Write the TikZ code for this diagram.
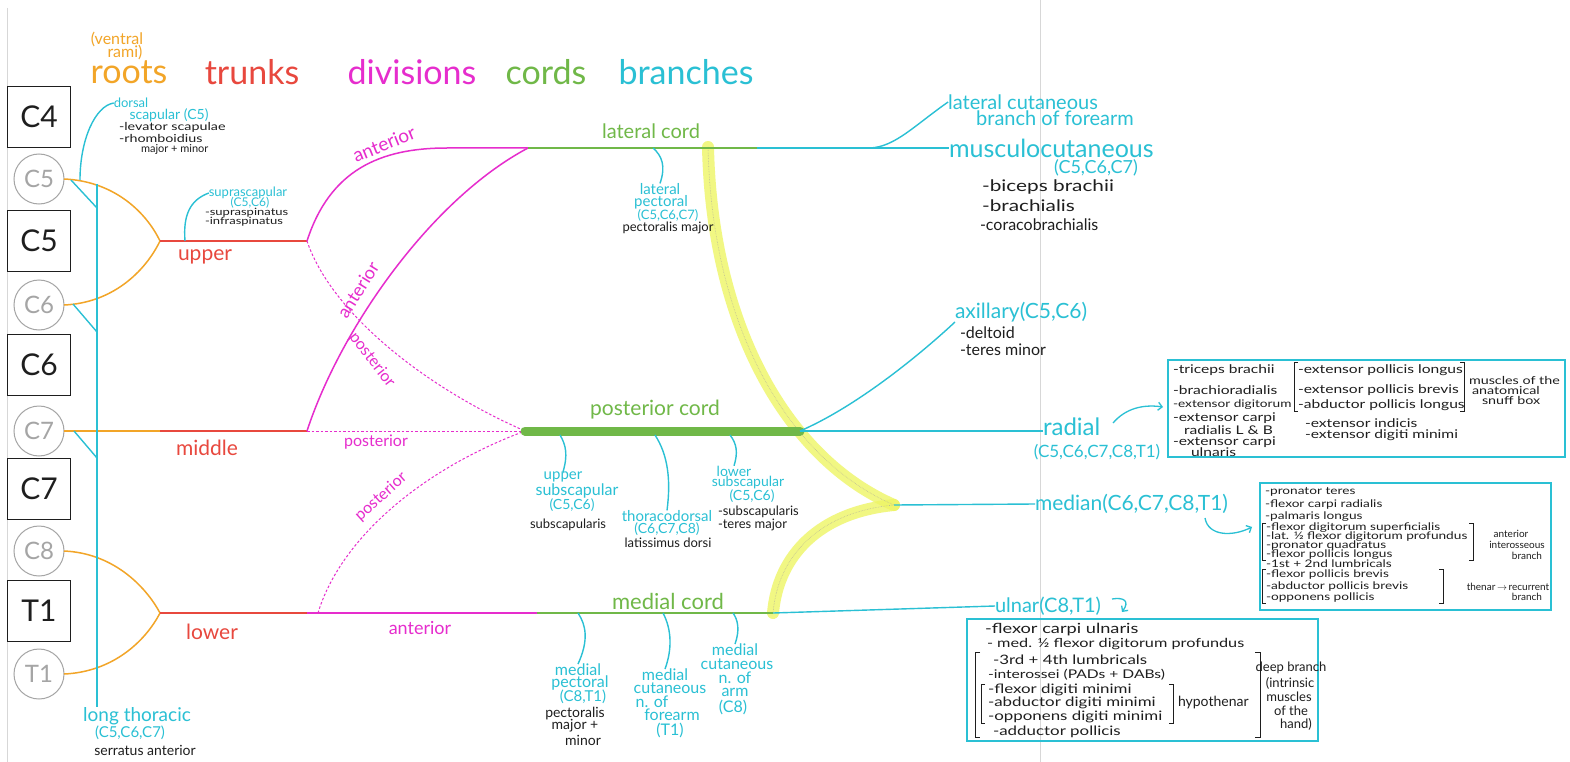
\documentclass[tikz,border=0pt]{standalone}
\usepackage{fontspec}
\setmainfont{Lato}
\newfontfamily\hw{Lato}[FakeStretch=1.3]
\usetikzlibrary{arrows.meta}
\definecolor{rootc}{RGB}{242,165,40}
\definecolor{trunkc}{RGB}{232,72,62}
\definecolor{divc}{RGB}{230,45,205}
\definecolor{cordc}{RGB}{112,184,72}
\definecolor{brc}{RGB}{42,192,212}
\definecolor{greyc}{RGB}{165,165,165}
\definecolor{pagec}{RGB}{215,215,215}
\definecolor{hlc}{RGB}{238,245,100}
\definecolor{inkc}{RGB}{30,30,30}
\newcommand{\fz}[1]{\fontsize{#1}{#1}\selectfont}
\begin{document}
\begin{tikzpicture}[x=1pt,y=-1pt,
  every node/.style={inner sep=0pt, outer sep=0pt},
  rootbox/.style={draw=inkc, line width=1.3pt, minimum width=63pt, minimum height=61pt, font=\fz{30}, text=inkc},
  rootcirc/.style={circle, draw=greyc, line width=1pt, minimum size=50pt, font=\fz{24}, text=greyc},
  rootln/.style={draw=rootc, line width=1.5pt},
  trunkln/.style={draw=trunkc, line width=1.5pt},
  divln/.style={draw=divc, line width=1.5pt},
  divdash/.style={draw=divc, line width=1pt, dash pattern=on 2.5pt off 2pt},
  cordln/.style={draw=cordc, line width=1.5pt},
  brln/.style={draw=brc, line width=1.4pt},
  boxln/.style={draw=brc, line width=1.8pt},
  brk/.style={draw=inkc, line width=0.9pt},
  cyt/.style={text=brc, align=center},
  ink/.style={text=inkc, align=left},
  hdr/.style={font=\fz{34}},
  arr/.style={-{Straight Barb[length=4pt,width=8pt]}, draw=brc, line width=1.3pt},
]
\fill[white] (0,0) rectangle (1570,762);
\useasboundingbox (0,0) rectangle (1570,762);
% notebook page lines
\coordinate (pg0) at (1040,0); \coordinate (pg1) at (1040,762);
\draw[pagec, line width=0.8pt] (pg0) -- (pg1);
\coordinate (pl0) at (7,8); \coordinate (pl1) at (7,762);
\draw[pagec, line width=0.6pt] (pl0) -- (pl1);

% headers
\node[text=rootc, font=\fz{16}, align=center] (ventral) at (117,46) {(ventral\\[-3pt]\hspace*{1em}rami)};
\node[hdr, text=rootc] (hroots) at (129,72) {roots};
\node[hdr, text=trunkc] (htrunks) at (252,72) {trunks};
\node[hdr, text=divc] (hdiv) at (412,72) {divisions};
\node[hdr, text=cordc] (hcords) at (546,72) {cords};
\node[hdr, text=brc] (hbr) at (686,72) {branches};

% roots column
\node[rootbox] (bC4) at (39,117) {C4};
\node[rootcirc] (cC5) at (39,179) {C5};
\node[rootbox] (bC5) at (39,241) {C5};
\node[rootcirc] (cC6) at (39,305) {C6};
\node[rootbox] (bC6) at (39,365) {C6};
\node[rootcirc] (cC7) at (39,431) {C7};
\node[rootbox] (bC7) at (39,489) {C7};
\node[rootcirc] (cC8) at (39,551) {C8};
\node[rootbox] (bT1) at (39,611) {T1};
\node[rootcirc] (cT1) at (39,674) {T1};

% junctions
\coordinate (J1) at (160,241);
\coordinate (J2) at (160,431);
\coordinate (J3) at (160,613);
\coordinate (T1e) at (307,241);
\coordinate (T2e) at (307,431);
\coordinate (T3e) at (307,613);
\coordinate (LC0) at (528,148);
\coordinate (LC1) at (757,148);
\coordinate (PC0) at (525,431);
\coordinate (PC1) at (800,431);
\coordinate (MD0) at (537,613);
\coordinate (MD1) at (773,613);
\coordinate (MED0) at (894,505);
\coordinate (UA1) at (447,148);
\coordinate (HL0) at (708,147);

% roots (orange)
\draw[rootln] (cC5.east) .. controls (112,181) and (145,210) .. (J1);
\draw[rootln] (cC6.east) .. controls (112,303) and (145,272) .. (J1);
\draw[rootln] (cC7.east) -- (J2);
\draw[rootln] (cC8.east) .. controls (112,553) and (145,585) .. (J3);
\draw[rootln] (cT1.east) .. controls (112,672) and (145,642) .. (J3);

% trunks (red)
\draw[trunkln] (J1) -- (T1e);
\draw[trunkln] (J2) -- (T2e);
\draw[trunkln] (J3) -- (T3e);
\node[text=trunkc, font=\fz{21}] (lupper) at (205,257) {upper};
\node[text=trunkc, font=\fz{21}] (lmiddle) at (207,448) {middle};
\node[text=trunkc, font=\fz{21}] (llower) at (212,632) {lower};

% divisions (magenta)
\draw[divln] (T1e) .. controls (330,170) and (380,148) .. (UA1) -- (LC0);
\draw[divln] (T2e) .. controls (340,330) and (430,200) .. (LC0);
\draw[divdash] (T1e) .. controls (330,310) and (420,385) .. (PC0);
\draw[divdash] (T2e) -- (PC0);
\coordinate (LP0) at (318,613);
\draw[divdash] (LP0) .. controls (340,540) and (420,470) .. (PC0);
\draw[divln] (T3e) -- (MD0);
\node[text=divc, font=\fz{19}, rotate=22] (da1) at (384,144) {anterior};
\node[text=divc, font=\fz{18}, rotate=58] (da2) at (358,290) {anterior};
\node[text=divc, font=\fz{16}, rotate=-52] (dp1) at (372,360) {posterior};
\node[text=divc, font=\fz{16}] (dp2) at (376,442) {posterior};
\node[text=divc, font=\fz{16}, rotate=42] (dp3) at (381,497) {posterior};
\node[text=divc, font=\fz{18}] (da3) at (420,628) {anterior};

% highlight (median nerve formation)
\path[draw=hlc, line width=12pt, opacity=0.8, line cap=round] (HL0) .. controls (712,330) and (790,460) .. (MED0);
\path[draw=hlc, line width=12pt, opacity=0.8, line cap=round] (MD1) .. controls (778,555) and (820,512) .. (MED0);
\draw[draw={rgb,255:red,190;green,190;blue,150}, line width=0.6pt, densely dotted] (HL0) .. controls (712,330) and (790,460) .. (MED0);
\draw[draw={rgb,255:red,190;green,190;blue,150}, line width=0.6pt, densely dotted] (MD1) .. controls (778,555) and (820,512) .. (MED0);

% cords (green)
\draw[cordln] (LC0) -- (LC1);
\draw[draw=cordc, line width=9pt, line cap=round] (PC0) -- (PC1);
\draw[cordln] (MD0) -- (MD1);
\node[text=cordc, font=\fz{20}] (nlat) at (651,131) {lateral cord};
\node[text=cordc, font=\fz{21}] (npost) at (655,410) {posterior cord};
\node[text=cordc, font=\fz{22}] (nmed) at (668,601) {medial cord};

% long thoracic & dorsal scapular
\coordinate (LTt) at (97,184);
\node[cyt, font=\fz{19}] (lt1) at (137,716) {long thoracic};
\node[cyt, font=\fz{15}] (lt2) at (130,733) {(C5,C6,C7)};
\node[ink, font=\fz{14}] (lt3) at (145,750) {serratus anterior};
\draw[brln] (LTt) -- (LTt |- lt1.north);
\coordinate (lb5a) at (71,180); \coordinate (lb5b) at (97,208);
\coordinate (lb6a) at (73,304); \coordinate (lb6b) at (97,332);
\coordinate (lb7a) at (74,431); \coordinate (lb7b) at (97,458);
\draw[brln] (lb5a) -- (lb5b);
\draw[brln] (lb6a) -- (lb6b);
\draw[brln] (lb7a) -- (lb7b);
\coordinate (ds0) at (80,180);
\node[cyt, font=\fz{13}] (ds1) at (131,103) {dorsal};
\node[cyt, font=\fz{14}] (ds2) at (169,115) {scapular (C5)};
\node[ink, font=\fz{11}, anchor=west] (ds3) at (119,127) {\hw -levator scapulae};
\node[ink, font=\fz{11}, anchor=west] (ds4) at (119,138) {\hw -rhomboidius};
\node[ink, font=\fz{11}, anchor=west] (ds5) at (141,149) {major + minor};
\draw[brln] (ds0) .. controls (80,140) and (95,106) .. (ds1.west);

% suprascapular
\coordinate (ss0) at (185,241);
\node[cyt, font=\fz{13}] (ss1) at (248,193) {suprascapular};
\node[cyt, font=\fz{12}] (ss2) at (250,203) {(C5,C6)};
\node[ink, font=\fz{10}, anchor=west] (ss3) at (205,213) {\hw -supraspinatus};
\node[ink, font=\fz{10}, anchor=west] (ss4) at (205,222) {\hw -infraspinatus};
\draw[brln] (ss0) .. controls (183,215) and (190,200) .. (ss1.west);

% lateral cord branches
\coordinate (lpb) at (653,148);
\node[cyt, font=\fz{15}] (lp1) at (660,189) {lateral};
\node[cyt, font=\fz{15}] (lp2) at (661,202) {pectoral};
\node[cyt, font=\fz{13}] (lp3) at (668,215) {(C5,C6,C7)};
\node[ink, font=\fz{13}] (lp4) at (668,228) {pectoralis major};
\draw[brln] (lpb) .. controls (662,156) and (666,166) .. (lp1.north);

\node[cyt, font=\fz{25}, anchor=west] (mc) at (949,148) {musculocutaneous};
\draw[brln] (LC1) -- (mc.west);
\coordinate (lcb) at (870,148);
\node[cyt, font=\fz{20}] (lc1) at (1023,102) {lateral cutaneous};
\node[cyt, font=\fz{20}] (lc2) at (1055,118) {branch of forearm};
\draw[brln] (lcb) .. controls (895,147) and (915,125) .. (lc1.west);
\node[cyt, font=\fz{18}] (mc2) at (1096,168) {(C5,C6,C7)};
\node[ink, font=\fz{16}, anchor=west] (mc3) at (982,187) {\hw -biceps brachii};
\node[ink, font=\fz{16}, anchor=west] (mc4) at (982,206) {\hw -brachialis};
\node[ink, font=\fz{16}, anchor=west] (mc5) at (980,225) {-coracobrachialis};

% posterior cord branches
\coordinate (usb) at (560,435);
\node[cyt, font=\fz{15}] (us1) at (563,477) {upper};
\node[cyt, font=\fz{16}] (us2) at (577,491) {subscapular};
\node[cyt, font=\fz{14}] (us3) at (572,505) {(C5,C6)};
\node[ink, font=\fz{13}] (us4) at (568,525) {subscapularis};
\draw[brln] (usb) .. controls (566,445) and (568,455) .. (us1.north);
\coordinate (tdb) at (655,435);
\node[cyt, font=\fz{15}] (td1) at (667,516) {thoracodorsal};
\node[cyt, font=\fz{14}] (td2) at (667,529) {(C6,C7,C8)};
\node[ink, font=\fz{13}] (td3) at (668,543) {latissimus dorsi};
\draw[brln] (tdb) .. controls (668,455) and (671,480) .. (td1.north);
\coordinate (lsb) at (730,435);
\node[cyt, font=\fz{14}] (ls1) at (734,471) {lower};
\node[cyt, font=\fz{14}] (ls2) at (748,483) {subscapular};
\node[cyt, font=\fz{14}] (ls3) at (752,496) {(C5,C6)};
\node[ink, font=\fz{13}, anchor=west] (ls4) at (718,512) {-subscapularis};
\node[ink, font=\fz{13}, anchor=west] (ls5) at (718,525) {-teres major};
\draw[brln] (lsb) .. controls (737,444) and (738,453) .. (ls1.north);

\node[cyt, font=\fz{21}, anchor=south west] (ax1) at (955,322) {axillary(C5,C6)};
\node[ink, font=\fz{16}, anchor=west] (ax2) at (960,333) {-deltoid};
\node[ink, font=\fz{16}, anchor=west] (ax3) at (960,350) {-teres minor};
\draw[brln] (PC1) .. controls (860,405) and (925,350) .. (ax1.south west);

\node[cyt, font=\fz{24}, anchor=west] (rad1) at (1043,427) {radial};
\node[cyt, font=\fz{17}] (rad2) at (1097,452) {(C5,C6,C7,C8,T1)};
\draw[brln] (PC1) -- (PC1 -| rad1.west);

% medial cord branches
\coordinate (mpb) at (578,613);
\node[cyt, font=\fz{16}] (mp1) at (578,670) {medial};
\node[cyt, font=\fz{16}] (mp2) at (580,683) {pectoral};
\node[cyt, font=\fz{15}] (mp3) at (583,697) {(C8,T1)};
\node[ink, font=\fz{14}] (mp4) at (575,714) {pectoralis};
\node[ink, font=\fz{14}] (mp5) at (575,726) {major +};
\node[ink, font=\fz{14}] (mp6) at (583,740) {minor};
\draw[brln] (mpb) .. controls (586,625) and (589,640) .. (mp1.north);
\coordinate (mfb) at (663,613);
\node[cyt, font=\fz{16}] (mf1) at (665,675) {medial};
\node[cyt, font=\fz{16}] (mf2) at (670,688) {cutaneous};
\node[cyt, font=\fz{16}] (mf3) at (652,702) {n. of};
\node[cyt, font=\fz{16}] (mf4) at (672,715) {forearm};
\node[cyt, font=\fz{16}] (mf5) at (670,730) {(T1)};
\draw[brln] (mfb) .. controls (672,630) and (672,650) .. (mf1.north);
\coordinate (mab) at (733,613);
\node[cyt, font=\fz{16}] (ma1) at (735,650) {medial};
\node[cyt, font=\fz{16}] (ma2) at (737,664) {cutaneous};
\node[cyt, font=\fz{16}] (ma3) at (735,678) {n. of};
\node[cyt, font=\fz{16}] (ma4) at (735,692) {arm};
\node[cyt, font=\fz{16}] (ma5) at (733,707) {(C8)};
\draw[brln] (mab) .. controls (738,620) and (740,630) .. (ma1.north);

% median & ulnar
\node[cyt, font=\fz{21}, anchor=west] (med) at (1035,504) {median(C6,C7,C8,T1)};
\draw[brln] (MED0) -- (med.west);
\node[cyt, font=\fz{20}, anchor=west] (uln) at (995,606) {ulnar(C8,T1)};
\draw[brln] (MD1) -- (uln.west);

% arrows
\coordinate (raS) at (1113,423); \coordinate (raE) at (1163,407);
\draw[arr] (raS) .. controls (1125,409) and (1142,404) .. (raE);
\coordinate (maS) at (1205,518); \coordinate (maE) at (1252,527);
\draw[arr] (maS) .. controls (1208,536) and (1232,537) .. (maE);
\coordinate (uaS) at (1112,599); \coordinate (uaE) at (1122,612);
\draw[arr] (uaS) .. controls (1124,597) and (1130,601) .. (uaE);

% radial box
\coordinate (rb0) at (1168,360); \coordinate (rb1) at (1565,457);
\draw[boxln] (rb0) rectangle (rb1);
\begin{scope}[every node/.append style={ink, font=\hw\fz{12}, anchor=west}]
\node (r1) at (1173,370) {-triceps brachii};
\node (r2) at (1173,390) {-brachioradialis};
\node[font=\hw\fz{10.5}] (r3) at (1173,405) {-extensor digitorum};
\node (r4) at (1173,418) {-extensor carpi};
\node (r5) at (1184,430) {radialis L \& B};
\node (r6) at (1173,442) {-extensor carpi};
\node (r7) at (1191,452) {ulnaris};
\node (r8) at (1298,370) {-extensor pollicis longus};
\node (r9) at (1298,390) {-extensor pollicis brevis};
\node (r10) at (1298,405) {-abductor pollicis longus};
\node (r11) at (1305,423) {-extensor indicis};
\node (r12) at (1305,435) {-extensor digiti minimi};
\end{scope}
\begin{scope}[every node/.append style={ink, font=\hw\fz{11}, anchor=west}]
\node (r13) at (1469,380) {muscles of the};
\node (r14) at (1472,390) {anatomical};
\node (r15) at (1482,400) {snuff box};
\end{scope}
\coordinate (rk0) at (1294,362); \coordinate (rk1) at (1294,411);
\draw[brk] ([xshift=4pt]rk0) -- (rk0) -- (rk1) -- ([xshift=4pt]rk1);
\coordinate (rk2) at (1464,362); \coordinate (rk3) at (1464,411);
\draw[brk] ([xshift=-4pt]rk2) -- (rk2) -- (rk3) -- ([xshift=-4pt]rk3);

% median box
\coordinate (mb0) at (1260,483); \coordinate (mb1) at (1551,610);
\draw[boxln] (mb0) rectangle (mb1);
\begin{scope}[every node/.append style={ink, font=\hw\fz{10.5}, anchor=west}]
\node (m1) at (1265,492) {-pronator teres};
\node (m2) at (1265,505) {-flexor carpi radialis};
\node (m3) at (1265,517) {-palmaris longus};
\node (m4) at (1266,528) {-flexor digitorum superficialis};
\node (m5) at (1266,537) {-lat. ½ flexor digitorum profundus};
\node (m6) at (1266,546) {-pronator quadratus};
\node (m7) at (1266,555) {-flexor pollicis longus};
\node (m8) at (1266,564) {-1st + 2nd lumbricals};
\node (m9) at (1266,575) {-flexor pollicis brevis};
\node (m10) at (1266,587) {-abductor pollicis brevis};
\node (m11) at (1266,598) {-opponens pollicis};
\end{scope}
\begin{scope}[every node/.append style={ink, font=\fz{10}, align=center}]
\node (m12) at (1511,534) {anterior};
\node (m13) at (1517,545) {interosseous};
\node (m14) at (1527,556) {branch};
\node (m15) at (1508,587) {thenar$\,\rightarrow\,$recurrent};
\node (m16) at (1527,597) {branch};
\end{scope}
\coordinate (mk0) at (1262,523); \coordinate (mk1) at (1262,560);
\draw[brk] ([xshift=4pt]mk0) -- (mk0) -- (mk1) -- ([xshift=4pt]mk1);
\coordinate (mk2) at (1473,523); \coordinate (mk3) at (1473,560);
\draw[brk] ([xshift=-4pt]mk2) -- (mk2) -- (mk3) -- ([xshift=-4pt]mk3);
\coordinate (mk4) at (1262,569); \coordinate (mk5) at (1262,603);
\draw[brk] ([xshift=4pt]mk4) -- (mk4) -- (mk5) -- ([xshift=4pt]mk5);
\coordinate (mk6) at (1443,569); \coordinate (mk7) at (1443,603);
\draw[brk] ([xshift=-4pt]mk6) -- (mk6) -- (mk7) -- ([xshift=-4pt]mk7);

% ulnar box
\coordinate (ub0) at (967,619); \coordinate (ub1) at (1318,741);
\draw[boxln] (ub0) rectangle (ub1);
\begin{scope}[every node/.append style={ink, anchor=west}]
\node[font=\hw\fz{14}] (u1) at (985,630) {-flexor carpi ulnaris};
\node[font=\hw\fz{12.5}] (u2) at (987,644) {- med. ½ flexor digitorum profundus};
\node[font=\hw\fz{13}] (u3) at (993,660) {-3rd + 4th lumbricals};
\node[font=\hw\fz{12}] (u4) at (988,675) {-interossei (PADs + DABs)};
\node[font=\hw\fz{13}] (u5) at (988,690) {-flexor digiti minimi};
\node[font=\hw\fz{13}] (u6) at (988,703) {-abductor digiti minimi};
\node[font=\hw\fz{13}] (u7) at (988,717) {-opponens digiti minimi};
\node[font=\hw\fz{13}] (u8) at (993,732) {-adductor pollicis};
\node[font=\fz{14}] (u9) at (1178,703) {hypothenar};
\end{scope}
\begin{scope}[every node/.append style={ink, font=\fz{13}, align=center}]
\node (u10) at (1291,668) {deep branch};
\node (u11) at (1290,683) {(intrinsic};
\node (u12) at (1289,697) {muscles};
\node (u13) at (1291,711) {of the};
\node (u14) at (1296,724) {hand)};
\end{scope}
\coordinate (uk0) at (975,652); \coordinate (uk1) at (975,737);
\draw[brk] ([xshift=5pt]uk0) -- (uk0) -- (uk1) -- ([xshift=5pt]uk1);
\coordinate (uk2) at (1260,652); \coordinate (uk3) at (1260,737);
\draw[brk] ([xshift=-5pt]uk2) -- (uk2) -- (uk3) -- ([xshift=-5pt]uk3);
\coordinate (uk4) at (981,684); \coordinate (uk5) at (981,723);
\draw[brk] ([xshift=4pt]uk4) -- (uk4) -- (uk5) -- ([xshift=4pt]uk5);
\coordinate (uk6) at (1173,684); \coordinate (uk7) at (1173,723);
\draw[brk] ([xshift=-4pt]uk6) -- (uk6) -- (uk7) -- ([xshift=-4pt]uk7);
\end{tikzpicture}
\end{document}
